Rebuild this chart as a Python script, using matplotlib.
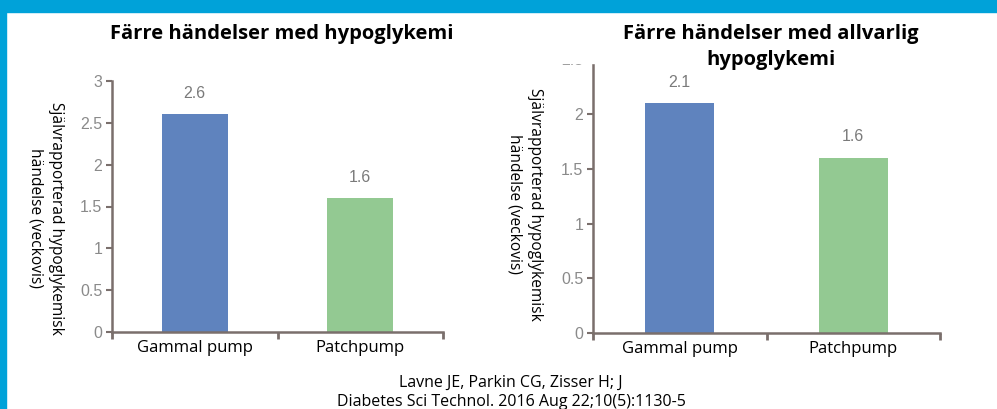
import matplotlib.pyplot as plt
from matplotlib.patches import Rectangle

categories = ['Gammal pump', 'Patchpump']
hypo_values = [2.6, 1.6]
severe_values = [2.1, 1.6]
hypo_ticks = [0, 0.5, 1, 1.5, 2, 2.5, 3]
severe_ticks = [0, 0.5, 1, 1.5, 2, 2.5]
tick_labels_hypo = ['0', '0.5', '1', '1.5', '2', '2.5', '3']
tick_labels_severe = ['0', '0.5', '1', '1.5', '2', '2.5']
title_hypo = 'Färre händelser med hypoglykemi'
title_severe = 'Färre händelser med allvarlig\nhypoglykemi'
ylabel = 'Självrapporterad hypoglykemisk\nhändelse (veckovis)'
citation = 'Lavne JE, Parkin CG, Zisser H; J\nDiabetes Sci Technol. 2016 Aug 22;10(5):1130-5'

bar_colors = ['#5f83be', '#93c992']
axis_col = '#7a6f6c'
tick_col = '#8a8a8a'
W, H = 997, 409

fig = plt.figure(figsize=(W / 100, H / 100), dpi=100)
fig.patch.set_facecolor('white')
# blue frame (top band + left strip)
fig.add_artist(Rectangle((0, 1 - 12 / H), 1, 12 / H, transform=fig.transFigure,
                         color='#00a2d9', zorder=6))
fig.add_artist(Rectangle((0, 0), 6 / W, 1, transform=fig.transFigure,
                         color='#00a2d9', zorder=6))


def draw(rect, values, ticks, ticklabels, ylim, title, title_y, label_xy):
    ax = fig.add_axes(rect)
    x = list(range(len(categories)))
    ax.bar(x, values, width=0.4, color=bar_colors, zorder=2)
    ax.set_xlim(-0.5, len(categories) - 0.5)
    ax.set_ylim(*ylim)
    for xi, v in zip(x, values):
        ax.annotate(f'{v:.1f}', (xi, v), xytext=(0, 15), textcoords='offset points',
                    ha='center', va='center', color='#7a7a7a', fontsize=11.5,
                    family='Liberation Sans')
    ax.set_yticks(ticks)
    ax.set_yticklabels(ticklabels, family='Liberation Sans', fontsize=11.5, color=tick_col)
    ax.set_xticks(x)
    ax.set_xticklabels(categories, family='Open Sans', fontsize=12, color='black')
    ax.set_xticks([-0.5, 0.5, len(categories) - 0.5], minor=True)
    ax.tick_params(axis='x', which='major', length=0, pad=6)
    ax.tick_params(axis='x', which='minor', length=5, width=2, color=axis_col)
    ax.tick_params(axis='y', length=4, width=1.5, color=axis_col, pad=3)
    for s in ['top', 'right']:
        ax.spines[s].set_visible(False)
    for s in ['left', 'bottom']:
        ax.spines[s].set_color(axis_col)
        ax.spines[s].set_linewidth(1.8)
    cx = rect[0] + rect[2] / 2
    fig.text(cx + 4 / W, title_y, title, ha='center', va='top', fontsize=14.5,
             fontweight='bold', family='Open Sans', linespacing=1.42, zorder=5)
    fig.text(label_xy[0] / W, 1 - label_xy[1] / H, ylabel, rotation=-90,
             ha='center', va='center', multialignment='center', fontsize=11.2,
             family='Open Sans', linespacing=1.35)
    return ax


draw([112 / W, 1 - 332 / H, 331 / W, 251 / H], hypo_values, hypo_ticks,
     tick_labels_hypo, (0, 3), title_hypo, 1 - 24 / H, (46, 218))
# white area behind the second title, hiding the top of the right axis
fig.add_artist(Rectangle((540 / W, 1 - 63 / H), 420 / W, 51 / H,
                         transform=fig.transFigure, color='white', zorder=4))
draw([593 / W, 1 - 333 / H, 347 / W, 273.75 / H], severe_values, severe_ticks,
     tick_labels_severe, (0, 2.5), title_severe, 1 - 24 / H, (525, 204))

fig.text(511 / W, 1 - 375 / H, citation, ha='center', va='top', fontsize=11.5,
         family='Open Sans', linespacing=1.25)

fig.savefig('out.png', dpi=100)
